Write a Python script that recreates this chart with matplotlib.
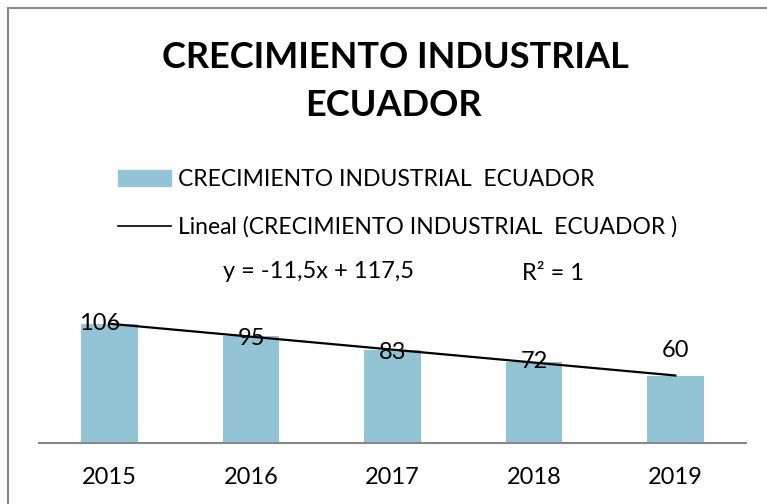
import numpy as np
import matplotlib.pyplot as plt
from matplotlib.patches import Rectangle
from matplotlib.lines import Line2D

plt.rcParams['font.family'] = ['Lato', 'DejaVu Sans']

years = ['2015', '2016', '2017', '2018', '2019']
values = [106, 95, 83, 72, 60]
series_name = 'CRECIMIENTO INDUSTRIAL  ECUADOR'
trend_name = 'Lineal (CRECIMIENTO INDUSTRIAL  ECUADOR )'
# trend coefficients as printed on the chart
trend_slope = -11.5
trend_intercept = 117.5
r_squared = 1

bar_color = '#93c4d5'
# label offsets (points) relative to the bar top
label_offsets = [(-7, 0), (0, -2), (0, -2), (0, 0), (0, 18)]

W, H = 767, 504
fig = plt.figure(figsize=(W / 100, H / 100), dpi=100)

# chart frame (only top and left edges visible in the original)
fig.add_artist(Rectangle((8 / W, -0.1), 1.2, (H - 8) / H + 0.1, transform=fig.transFigure,
                         fill=False, edgecolor='#888888', lw=1.5))

ax = fig.add_axes([39 / W, 61 / H, 707 / W, 135 / H])
x = np.arange(len(years))
ax.bar(x, values, width=0.4, color=bar_color, zorder=2)

# linear trend (x = 1..n as in Excel)
xs = np.arange(1, len(values) + 1)
trend = trend_slope * xs + trend_intercept
ax.plot(x, trend, color='black', lw=1.6, zorder=3)

for xi, v, (dx, dy) in zip(x, values, label_offsets):
    ax.annotate(str(v), (xi, v), xytext=(dx, dy), textcoords='offset points',
                ha='center', va='center', fontsize=17, zorder=4)

ax.set_xlim(-0.5, len(years) - 0.5)
ax.set_ylim(0, 120)
ax.set_xticks(x)
ax.set_xticklabels(years, fontsize=17)
ax.tick_params(axis='x', length=0, pad=17)
ax.set_yticks([])
for s in ['left', 'right', 'top']:
    ax.spines[s].set_visible(False)
ax.spines['bottom'].set_color('#868686')
ax.spines['bottom'].set_linewidth(1.5)
ax.patch.set_alpha(0)

fig.text(395 / W, 1 - 58 / H, 'CRECIMIENTO INDUSTRIAL', ha='center', va='center',
         fontsize=26, fontweight='bold')
fig.text(393 / W, 1 - 106 / H, 'ECUADOR', ha='center', va='center',
         fontsize=26, fontweight='bold')

handles = [Rectangle((0, 0), 1, 1, color=bar_color),
           Line2D([0], [0], color='black', lw=1.2)]
fig.legend(handles, [series_name, trend_name], loc='upper left',
           bbox_to_anchor=(118 / W, 1 - 169 / H), frameon=False, fontsize=16.5,
           handlelength=2.3, handleheight=0.7, handletextpad=0.3,
           labelspacing=1.15, borderpad=0, borderaxespad=0)

eq = f'y = {trend_slope:g}x + {trend_intercept:g}'.replace('.', ',')
fig.text(223 / W, 1 - 272 / H, eq, ha='left', va='center', fontsize=17)
fig.text(522 / W, 1 - 273 / H, f'R² = {r_squared}', ha='left', va='center', fontsize=17)

fig.savefig('out.png', dpi=100)
